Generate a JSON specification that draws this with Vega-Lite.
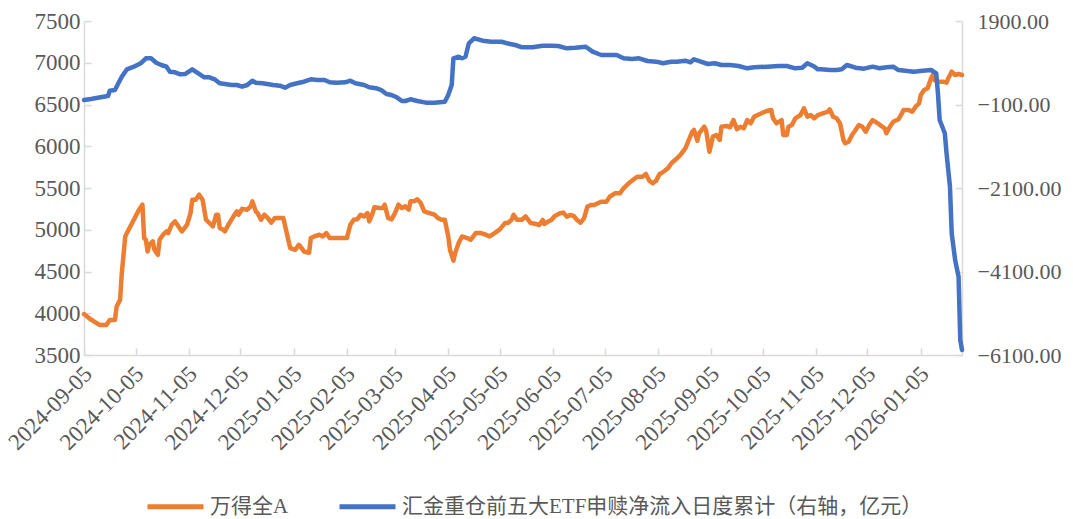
{
  "$schema": "https://vega.github.io/schema/vega-lite/v6.json",
  "width": 878,
  "height": 334,
  "autosize": {"type": "none"},
  "padding": {"left": 84, "top": 21, "right": 111, "bottom": 164},
  "background": "white",
  "config": {
    "view": {"stroke": null},
    "font": "Liberation Serif, Noto Sans CJK SC",
    "axis": {
      "labelFont": "Liberation Serif, Noto Sans CJK SC",
      "labelFontSize": 23,
      "labelColor": "#595959",
      "domainColor": "#D9D9D9",
      "domainWidth": 1.5,
      "tickColor": "#D9D9D9",
      "tickWidth": 1.5,
      "grid": false,
      "title": null
    },
    "legend": {
      "labelFont": "Liberation Serif, Noto Sans CJK SC",
      "labelFontSize": 21,
      "labelColor": "#595959",
      "labelLimit": 0
    }
  },
  "datasets": {
    "a": [
      {"d":"2024-09-05","v":3990},{"d":"2024-09-08","v":3940},{"d":"2024-09-11","v":3900},{"d":"2024-09-14","v":3860},{"d":"2024-09-18","v":3860},{"d":"2024-09-20","v":3920},{"d":"2024-09-23","v":3920},{"d":"2024-09-24","v":4080},{"d":"2024-09-26","v":4160},{"d":"2024-09-27","v":4480},{"d":"2024-09-29","v":4920},{"d":"2024-09-30","v":4960},
      {"d":"2024-10-04","v":5120},{"d":"2024-10-07","v":5240},{"d":"2024-10-09","v":5300},{"d":"2024-10-10","v":4900},{"d":"2024-10-11","v":4880},{"d":"2024-10-12","v":4740},{"d":"2024-10-13","v":4820},{"d":"2024-10-15","v":4860},{"d":"2024-10-16","v":4760},{"d":"2024-10-18","v":4700},{"d":"2024-10-19","v":4880},{"d":"2024-10-21","v":4940},{"d":"2024-10-23","v":4980},{"d":"2024-10-24","v":4960},{"d":"2024-10-26","v":5060},{"d":"2024-10-28","v":5100},{"d":"2024-10-30","v":5040},
      {"d":"2024-11-01","v":4980},{"d":"2024-11-04","v":5060},{"d":"2024-11-06","v":5200},{"d":"2024-11-07","v":5360},{"d":"2024-11-09","v":5360},{"d":"2024-11-11","v":5420},{"d":"2024-11-13","v":5360},{"d":"2024-11-15","v":5120},{"d":"2024-11-18","v":5060},{"d":"2024-11-19","v":5040},{"d":"2024-11-21","v":5180},{"d":"2024-11-22","v":5180},{"d":"2024-11-23","v":5020},{"d":"2024-11-25","v":5000},{"d":"2024-11-26","v":4980},{"d":"2024-11-28","v":5060},
      {"d":"2024-12-01","v":5160},{"d":"2024-12-03","v":5220},{"d":"2024-12-04","v":5180},{"d":"2024-12-06","v":5250},{"d":"2024-12-09","v":5240},{"d":"2024-12-11","v":5280},{"d":"2024-12-12","v":5340},{"d":"2024-12-14","v":5220},{"d":"2024-12-15","v":5200},{"d":"2024-12-17","v":5120},{"d":"2024-12-19","v":5180},{"d":"2024-12-21","v":5140},{"d":"2024-12-23","v":5085},{"d":"2024-12-25","v":5140},{"d":"2024-12-30","v":5140},
      {"d":"2025-01-01","v":4960},{"d":"2025-01-03","v":4780},{"d":"2025-01-06","v":4760},{"d":"2025-01-08","v":4820},{"d":"2025-01-09","v":4800},{"d":"2025-01-11","v":4740},{"d":"2025-01-14","v":4725},{"d":"2025-01-15","v":4900},{"d":"2025-01-17","v":4920},{"d":"2025-01-20","v":4940},{"d":"2025-01-22","v":4920},{"d":"2025-01-24","v":4960},{"d":"2025-01-26","v":4900},
      {"d":"2025-02-05","v":4900},{"d":"2025-02-07","v":5060},{"d":"2025-02-09","v":5120},{"d":"2025-02-11","v":5125},{"d":"2025-02-13","v":5180},{"d":"2025-02-15","v":5160},{"d":"2025-02-17","v":5200},{"d":"2025-02-18","v":5100},{"d":"2025-02-20","v":5200},{"d":"2025-02-21","v":5270},{"d":"2025-02-24","v":5260},{"d":"2025-02-26","v":5260},{"d":"2025-02-27","v":5300},
      {"d":"2025-03-01","v":5140},{"d":"2025-03-03","v":5125},{"d":"2025-03-05","v":5200},{"d":"2025-03-07","v":5300},{"d":"2025-03-09","v":5260},{"d":"2025-03-11","v":5280},{"d":"2025-03-13","v":5240},{"d":"2025-03-14","v":5340},{"d":"2025-03-16","v":5340},{"d":"2025-03-18","v":5365},{"d":"2025-03-20","v":5320},{"d":"2025-03-22","v":5220},{"d":"2025-03-25","v":5200},{"d":"2025-03-28","v":5180},{"d":"2025-03-30","v":5140},
      {"d":"2025-04-01","v":5120},{"d":"2025-04-03","v":5120},{"d":"2025-04-05","v":4920},{"d":"2025-04-06","v":4760},{"d":"2025-04-08","v":4630},{"d":"2025-04-09","v":4720},{"d":"2025-04-11","v":4840},{"d":"2025-04-13","v":4920},{"d":"2025-04-16","v":4900},{"d":"2025-04-18","v":4880},{"d":"2025-04-21","v":4960},{"d":"2025-04-24","v":4960},{"d":"2025-04-27","v":4940},{"d":"2025-04-29","v":4920},
      {"d":"2025-05-02","v":4960},{"d":"2025-05-05","v":5005},{"d":"2025-05-08","v":5080},{"d":"2025-05-10","v":5085},{"d":"2025-05-12","v":5125},{"d":"2025-05-13","v":5180},{"d":"2025-05-15","v":5120},{"d":"2025-05-18","v":5120},{"d":"2025-05-20","v":5160},{"d":"2025-05-23","v":5080},{"d":"2025-05-26","v":5070},{"d":"2025-05-28","v":5057},{"d":"2025-05-30","v":5117},{"d":"2025-05-31","v":5069},
      {"d":"2025-06-02","v":5097},{"d":"2025-06-04","v":5117},{"d":"2025-06-06","v":5165},{"d":"2025-06-09","v":5197},{"d":"2025-06-11","v":5205},{"d":"2025-06-13","v":5157},{"d":"2025-06-15","v":5177},{"d":"2025-06-17","v":5165},{"d":"2025-06-19","v":5117},{"d":"2025-06-21","v":5085},{"d":"2025-06-23","v":5137},{"d":"2025-06-25","v":5277},{"d":"2025-06-27","v":5296},{"d":"2025-06-29","v":5296},
      {"d":"2025-07-01","v":5317},{"d":"2025-07-03","v":5336},{"d":"2025-07-06","v":5336},{"d":"2025-07-08","v":5396},{"d":"2025-07-11","v":5436},{"d":"2025-07-14","v":5436},{"d":"2025-07-16","v":5496},{"d":"2025-07-19","v":5556},{"d":"2025-07-22","v":5604},{"d":"2025-07-24","v":5635},{"d":"2025-07-27","v":5635},{"d":"2025-07-29","v":5668},{"d":"2025-07-31","v":5588},
      {"d":"2025-08-02","v":5556},{"d":"2025-08-04","v":5588},{"d":"2025-08-06","v":5668},{"d":"2025-08-07","v":5676},{"d":"2025-08-09","v":5707},{"d":"2025-08-11","v":5740},{"d":"2025-08-13","v":5800},{"d":"2025-08-15","v":5835},{"d":"2025-08-18","v":5895},{"d":"2025-08-21","v":5975},{"d":"2025-08-23","v":6075},{"d":"2025-08-25","v":6174},{"d":"2025-08-26","v":6195},{"d":"2025-08-28","v":6066},{"d":"2025-08-29","v":6155},
      {"d":"2025-09-01","v":6234},{"d":"2025-09-02","v":6195},{"d":"2025-09-04","v":5935},{"d":"2025-09-06","v":6114},{"d":"2025-09-08","v":6135},{"d":"2025-09-10","v":6075},{"d":"2025-09-11","v":6234},{"d":"2025-09-14","v":6243},{"d":"2025-09-16","v":6227},{"d":"2025-09-18","v":6314},{"d":"2025-09-20","v":6203},{"d":"2025-09-22","v":6234},{"d":"2025-09-24","v":6215},{"d":"2025-09-26","v":6314},{"d":"2025-09-28","v":6275},{"d":"2025-09-30","v":6354},
      {"d":"2025-10-02","v":6374},{"d":"2025-10-05","v":6402},{"d":"2025-10-08","v":6426},{"d":"2025-10-10","v":6434},{"d":"2025-10-11","v":6335},{"d":"2025-10-13","v":6275},{"d":"2025-10-16","v":6314},{"d":"2025-10-17","v":6135},{"d":"2025-10-19","v":6135},{"d":"2025-10-20","v":6234},{"d":"2025-10-22","v":6255},{"d":"2025-10-24","v":6335},{"d":"2025-10-27","v":6374},{"d":"2025-10-29","v":6454},{"d":"2025-10-31","v":6354},
      {"d":"2025-11-02","v":6374},{"d":"2025-11-04","v":6335},{"d":"2025-11-06","v":6374},{"d":"2025-11-09","v":6394},{"d":"2025-11-12","v":6414},{"d":"2025-11-13","v":6443},{"d":"2025-11-15","v":6354},{"d":"2025-11-17","v":6335},{"d":"2025-11-19","v":6275},{"d":"2025-11-21","v":6075},{"d":"2025-11-22","v":6035},{"d":"2025-11-24","v":6055},{"d":"2025-11-26","v":6135},{"d":"2025-11-28","v":6195},{"d":"2025-11-30","v":6255},
      {"d":"2025-12-02","v":6234},{"d":"2025-12-04","v":6174},{"d":"2025-12-06","v":6255},{"d":"2025-12-08","v":6314},{"d":"2025-12-11","v":6275},{"d":"2025-12-13","v":6243},{"d":"2025-12-15","v":6215},{"d":"2025-12-16","v":6155},{"d":"2025-12-18","v":6234},{"d":"2025-12-20","v":6294},{"d":"2025-12-23","v":6323},{"d":"2025-12-25","v":6394},{"d":"2025-12-26","v":6434},{"d":"2025-12-29","v":6434},{"d":"2025-12-31","v":6414},
      {"d":"2026-01-02","v":6474},{"d":"2026-01-04","v":6514},{"d":"2026-01-05","v":6614},{"d":"2026-01-07","v":6674},{"d":"2026-01-09","v":6694},{"d":"2026-01-11","v":6814},{"d":"2026-01-12","v":6853},{"d":"2026-01-13","v":6793},{"d":"2026-01-15","v":6773},{"d":"2026-01-18","v":6773},{"d":"2026-01-20","v":6761},{"d":"2026-01-21","v":6814},{"d":"2026-01-23","v":6893},{"d":"2026-01-25","v":6853},{"d":"2026-01-27","v":6865},{"d":"2026-01-29","v":6853}
    ],
    "b": [
      {"d":"2024-09-05","v":8},{"d":"2024-09-09","v":32},{"d":"2024-09-13","v":63},{"d":"2024-09-19","v":104},{"d":"2024-09-20","v":230},{"d":"2024-09-23","v":247},{"d":"2024-09-25","v":408},{"d":"2024-09-27","v":566},{"d":"2024-09-30","v":743},
      {"d":"2024-10-04","v":806},{"d":"2024-10-08","v":887},{"d":"2024-10-11","v":1007},{"d":"2024-10-14","v":1007},{"d":"2024-10-17","v":901},{"d":"2024-10-20","v":846},{"d":"2024-10-23","v":806},{"d":"2024-10-25","v":686},{"d":"2024-10-28","v":671},{"d":"2024-10-31","v":623},
      {"d":"2024-11-03","v":631},{"d":"2024-11-07","v":743},{"d":"2024-11-11","v":631},{"d":"2024-11-14","v":551},{"d":"2024-11-17","v":551},{"d":"2024-11-20","v":504},{"d":"2024-11-23","v":408},{"d":"2024-11-26","v":391},{"d":"2024-11-30","v":367},
      {"d":"2024-12-03","v":367},{"d":"2024-12-06","v":327},{"d":"2024-12-09","v":367},{"d":"2024-12-12","v":470},{"d":"2024-12-14","v":422},{"d":"2024-12-18","v":408},{"d":"2024-12-24","v":367},{"d":"2024-12-28","v":351},{"d":"2024-12-31","v":303},
      {"d":"2025-01-03","v":367},{"d":"2025-01-07","v":408},{"d":"2025-01-11","v":446},{"d":"2025-01-15","v":504},{"d":"2025-01-19","v":487},{"d":"2025-01-23","v":487},{"d":"2025-01-26","v":432},{"d":"2025-01-30","v":422},
      {"d":"2025-02-04","v":432},{"d":"2025-02-07","v":470},{"d":"2025-02-10","v":408},{"d":"2025-02-15","v":367},{"d":"2025-02-18","v":312},{"d":"2025-02-22","v":290},{"d":"2025-02-25","v":247},{"d":"2025-02-28","v":152},
      {"d":"2025-03-03","v":128},{"d":"2025-03-06","v":72},{"d":"2025-03-09","v":-16},{"d":"2025-03-11","v":-16},{"d":"2025-03-14","v":25},{"d":"2025-03-18","v":-16},{"d":"2025-03-23","v":-56},{"d":"2025-03-28","v":-56},
      {"d":"2025-04-03","v":-33},{"d":"2025-04-05","v":128},{"d":"2025-04-07","v":367},{"d":"2025-04-08","v":1007},{"d":"2025-04-11","v":1045},{"d":"2025-04-13","v":1007},{"d":"2025-04-15","v":1045},{"d":"2025-04-17","v":1366},{"d":"2025-04-20","v":1486},{"d":"2025-04-25","v":1428},{"d":"2025-04-30","v":1404},
      {"d":"2025-05-06","v":1404},{"d":"2025-05-11","v":1349},{"d":"2025-05-14","v":1325},{"d":"2025-05-18","v":1270},{"d":"2025-05-24","v":1270},{"d":"2025-05-30","v":1308},
      {"d":"2025-06-04","v":1308},{"d":"2025-06-08","v":1301},{"d":"2025-06-13","v":1246},{"d":"2025-06-18","v":1260},{"d":"2025-06-24","v":1284},{"d":"2025-06-28","v":1165},
      {"d":"2025-07-03","v":1086},{"d":"2025-07-07","v":1086},{"d":"2025-07-12","v":1086},{"d":"2025-07-16","v":1007},{"d":"2025-07-21","v":990},{"d":"2025-07-25","v":1007},{"d":"2025-07-30","v":942},
      {"d":"2025-08-04","v":926},{"d":"2025-08-08","v":887},{"d":"2025-08-11","v":911},{"d":"2025-08-13","v":926},{"d":"2025-08-16","v":926},{"d":"2025-08-21","v":949},{"d":"2025-08-24","v":911},{"d":"2025-08-26","v":983},{"d":"2025-08-30","v":926},
      {"d":"2025-09-03","v":870},{"d":"2025-09-07","v":887},{"d":"2025-09-11","v":846},{"d":"2025-09-16","v":846},{"d":"2025-09-21","v":822},{"d":"2025-09-26","v":767},{"d":"2025-09-30","v":791},
      {"d":"2025-10-08","v":806},{"d":"2025-10-14","v":822},{"d":"2025-10-19","v":822},{"d":"2025-10-24","v":767},{"d":"2025-10-28","v":782},{"d":"2025-10-31","v":887},
      {"d":"2025-11-04","v":810},{"d":"2025-11-06","v":743},{"d":"2025-11-08","v":743},{"d":"2025-11-13","v":726},{"d":"2025-11-17","v":726},{"d":"2025-11-20","v":743},{"d":"2025-11-23","v":846},{"d":"2025-11-28","v":782},
      {"d":"2025-12-03","v":758},{"d":"2025-12-08","v":806},{"d":"2025-12-12","v":767},{"d":"2025-12-16","v":791},{"d":"2025-12-20","v":806},{"d":"2025-12-23","v":726},{"d":"2025-12-27","v":710},
      {"d":"2026-01-01","v":686},{"d":"2026-01-06","v":710},{"d":"2026-01-11","v":726},{"d":"2026-01-14","v":647},{"d":"2026-01-15","v":168},{"d":"2026-01-16","v":-471},{"d":"2026-01-19","v":-790},{"d":"2026-01-20","v":-1269},{"d":"2026-01-22","v":-2069},{"d":"2026-01-23","v":-3185},{"d":"2026-01-25","v":-3825},{"d":"2026-01-27","v":-4224},{"d":"2026-01-28","v":-5741},{"d":"2026-01-29","v":-5980}
    ]
  },
  "encoding": {
    "x": {
      "field": "d",
      "type": "temporal",
      "scale": {
        "type": "utc",
        "domain": [
          {"year": 2024, "month": 9, "date": 5, "utc": true},
          {"year": 2026, "month": 1, "date": 29, "utc": true}
        ]
      },
      "axis": {
        "values": [
          {"year": 2024, "month": 9, "date": 5, "utc": true},
          {"year": 2024, "month": 10, "date": 5, "utc": true},
          {"year": 2024, "month": 11, "date": 5, "utc": true},
          {"year": 2024, "month": 12, "date": 5, "utc": true},
          {"year": 2025, "month": 1, "date": 5, "utc": true},
          {"year": 2025, "month": 2, "date": 5, "utc": true},
          {"year": 2025, "month": 3, "date": 5, "utc": true},
          {"year": 2025, "month": 4, "date": 5, "utc": true},
          {"year": 2025, "month": 5, "date": 5, "utc": true},
          {"year": 2025, "month": 6, "date": 5, "utc": true},
          {"year": 2025, "month": 7, "date": 5, "utc": true},
          {"year": 2025, "month": 8, "date": 5, "utc": true},
          {"year": 2025, "month": 9, "date": 5, "utc": true},
          {"year": 2025, "month": 10, "date": 5, "utc": true},
          {"year": 2025, "month": 11, "date": 5, "utc": true},
          {"year": 2025, "month": 12, "date": 5, "utc": true},
          {"year": 2026, "month": 1, "date": 5, "utc": true}
        ],
        "format": "%Y-%m-%d",
        "labelAngle": -45,
        "labelAlign": "right",
        "labelBaseline": "middle",
        "labelPadding": 22,
        "labelOffset": 4,
        "tickSize": -7,
        "labelFlush": false,
        "labelOverlap": false,
        "labelBound": false
      }
    },
    "color": {
      "scale": {
        "domain": ["万得全A", "汇金重仓前五大ETF申赎净流入日度累计（右轴，亿元）"],
        "range": ["#ED7D31", "#4472C4"]
      },
      "legend": {
        "orient": "none",
        "legendX": 61,
        "legendY": 455,
        "direction": "horizontal",
        "title": null,
        "symbolType": "stroke",
        "symbolSize": 3136,
        "symbolStrokeWidth": 5,
        "columnPadding": 40,
        "labelOffset": 4
      }
    }
  },
  "layer": [
    {
      "data": {"name": "a"},
      "mark": {"type": "line", "strokeWidth": 4.5, "strokeJoin": "round", "strokeCap": "round"},
      "encoding": {
        "y": {
          "field": "v",
          "type": "quantitative",
          "scale": {"domain": [3500, 7500], "nice": false, "zero": false},
          "axis": {"orient": "left", "values": [3500, 4000, 4500, 5000, 5500, 6000, 6500, 7000, 7500], "format": "d", "tickSize": -7, "labelPadding": 11, "labelFlush": false}
        },
        "color": {"datum": "万得全A"}
      }
    },
    {
      "data": {"name": "b"},
      "mark": {"type": "line", "strokeWidth": 4.5, "strokeJoin": "round", "strokeCap": "round"},
      "encoding": {
        "y": {
          "field": "v",
          "type": "quantitative",
          "scale": {"domain": [-6100, 1900], "nice": false, "zero": false},
          "axis": {"orient": "right", "values": [-6100, -4100, -2100, -100, 1900], "format": ".2f", "tickSize": -7, "labelPadding": 22, "labelFlush": false, "labelFontSize": 22}
        },
        "color": {"datum": "汇金重仓前五大ETF申赎净流入日度累计（右轴，亿元）"}
      }
    }
  ],
  "resolve": {"scale": {"y": "independent"}}
}
